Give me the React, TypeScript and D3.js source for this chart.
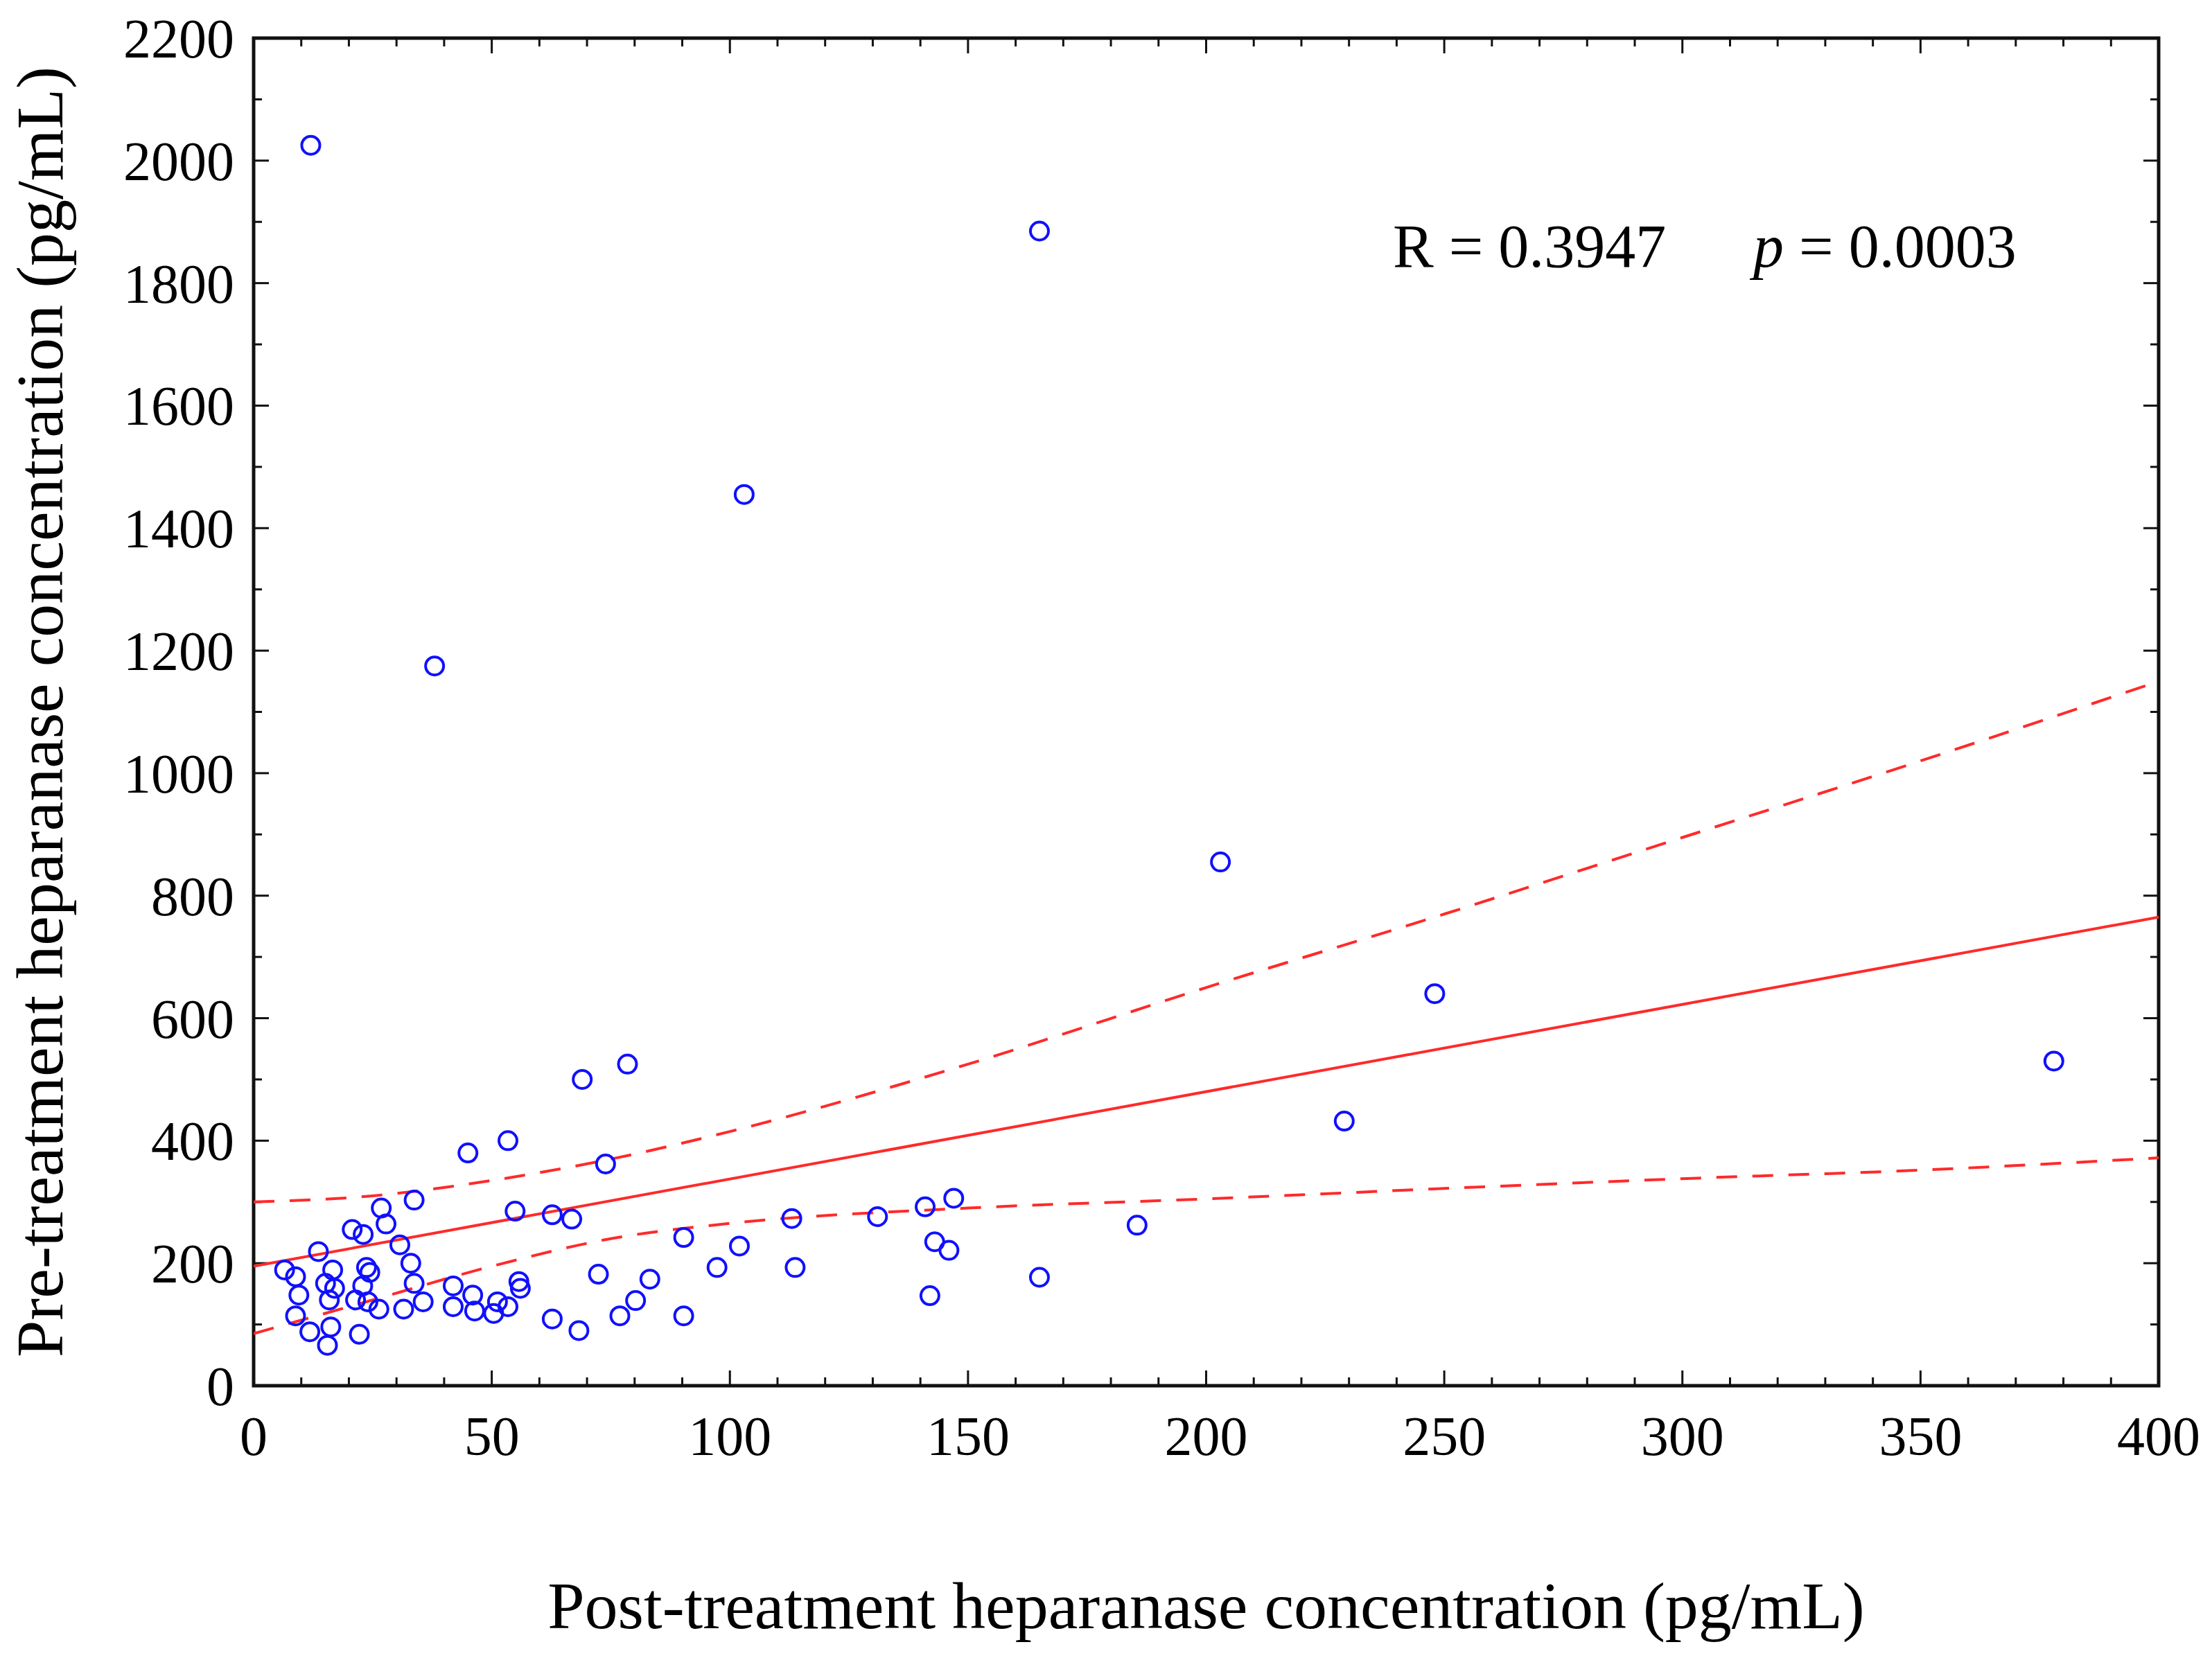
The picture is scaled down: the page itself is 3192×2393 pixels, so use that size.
import React, { useEffect, useRef } from "react";
import * as d3 from "d3";

const W = 3192;
const H = 2393;

// post-treatment (x) and pre-treatment (y) heparanase, pg/mL
const postValues = [
  12, 165, 103, 38, 203, 248, 229, 378, 69, 78.5,
  45, 53.4, 73.9, 26.8, 33.7, 27.8, 20.7, 23, 54.9, 62.7,
  66.8, 13.6, 30.7, 33, 90.3, 102, 113, 113.7, 6.5, 16.6,
  23.7, 8.8, 15.1, 17, 22.9, 24.4, 33.7, 9.5, 15.9, 21.4,
  24, 35.6, 26.3, 31.5, 41.9, 41.9, 46, 46.4, 50.4, 51.2,
  53.4, 55.7, 56, 72.4, 83.2, 80.2, 76.9, 97.3, 90.3, 62.7,
  68.3, 8.8, 11.8, 16.2, 15.5, 22.2, 131, 141, 147, 143,
  146, 142, 165, 185.5,
];
const preValues = [
  2025, 1885, 1455, 1175, 855, 640, 432, 530, 500, 525,
  380, 400, 362, 290, 303, 264, 255, 247, 285, 279,
  272, 219, 230, 200, 242, 228, 273, 193, 189, 189,
  193, 178, 167, 159, 163, 185, 167, 148, 140, 140,
  137, 137, 125, 125, 163, 129, 148, 122, 118, 137,
  129, 170, 159, 182, 174, 139, 114, 193, 114, 109,
  90, 114, 88, 96, 66, 84, 276, 292, 306, 235,
  221, 147, 177, 262,
];

// fitted line and 95% band
const fitX = [0, 400];
const fitY = [195, 765];
const bandX = [0, 25, 50, 75, 100, 150, 200, 250, 300, 350, 400];
const bandUpper = [300, 310, 335, 370, 415, 525, 650, 770, 895, 1020, 1150];
const bandLower = [85, 140, 195, 240, 265, 290, 305, 322, 338, 352, 372];

const xTicks = [0, 50, 100, 150, 200, 250, 300, 350, 400];
const yTicks = [0, 200, 400, 600, 800, 1000, 1200, 1400, 1600, 1800, 2000, 2200];

export default function App() {
  const ref = useRef<SVGSVGElement>(null);

  useEffect(() => {
    const svg = d3.select(ref.current);
    svg.selectAll("*").remove();
    const m = { left: 366, right: 3115, top: 55, bottom: 2000 };
    const x = d3.scaleLinear().domain([0, 400]).range([m.left, m.right]);
    const y = d3.scaleLinear().domain([0, 2200]).range([m.bottom, m.top]);
    const font = "'Liberation Serif', 'Times New Roman', serif";

    svg.append("rect").attr("width", W).attr("height", H).attr("fill", "#fff");

    // ticks (inward, all four sides)
    const g = svg.append("g").attr("stroke", "#111").attr("stroke-width", 3);
    d3.range(0, 401, 10).forEach((v) => {
      const len = v % 50 === 0 ? 22 : 12;
      g.append("line").attr("x1", x(v)).attr("x2", x(v)).attr("y1", m.bottom).attr("y2", m.bottom - len);
      g.append("line").attr("x1", x(v)).attr("x2", x(v)).attr("y1", m.top).attr("y2", m.top + len);
    });
    d3.range(0, 2201, 100).forEach((v) => {
      const len = v % 200 === 0 ? 22 : 12;
      g.append("line").attr("y1", y(v)).attr("y2", y(v)).attr("x1", m.left).attr("x2", m.left + len);
      g.append("line").attr("y1", y(v)).attr("y2", y(v)).attr("x1", m.right).attr("x2", m.right - len);
    });
    svg.append("rect")
      .attr("x", m.left).attr("y", m.top)
      .attr("width", m.right - m.left).attr("height", m.bottom - m.top)
      .attr("fill", "none").attr("stroke", "#111").attr("stroke-width", 5);

    svg.append("g").selectAll("text").data(xTicks).join("text")
      .attr("x", (d) => x(d)).attr("y", m.bottom + 100)
      .attr("text-anchor", "middle").attr("font-family", font).attr("font-size", 80)
      .text((d) => d);
    svg.append("g").selectAll("text").data(yTicks).join("text")
      .attr("x", m.left - 28).attr("y", (d) => y(d) + 28)
      .attr("text-anchor", "end").attr("font-family", font).attr("font-size", 80)
      .text((d) => d);

    // regression band and fit
    const line = d3.line<number>().x((_, i) => x(bandX[i]));
    const clip = svg.append("clipPath").attr("id", "pc");
    clip.append("rect").attr("x", m.left).attr("y", m.top)
      .attr("width", m.right - m.left).attr("height", m.bottom - m.top);
    const lines = svg.append("g").attr("clip-path", "url(#pc)")
      .attr("fill", "none").attr("stroke", "#ff2a2a").attr("stroke-width", 4);
    lines.append("path")
      .attr("d", line.y((d) => y(d)).curve(d3.curveMonotoneX)(bandUpper))
      .attr("stroke-dasharray", "30 22");
    lines.append("path")
      .attr("d", line.y((d) => y(d)).curve(d3.curveMonotoneX)(bandLower))
      .attr("stroke-dasharray", "30 22");
    lines.append("line")
      .attr("x1", x(fitX[0])).attr("y1", y(fitY[0]))
      .attr("x2", x(fitX[1])).attr("y2", y(fitY[1]));

    svg.append("g").selectAll("circle").data(postValues).join("circle")
      .attr("cx", (d) => x(d)).attr("cy", (_, i) => y(preValues[i]))
      .attr("r", 13).attr("fill", "none").attr("stroke", "#1010ff").attr("stroke-width", 4);

    const ann = svg.append("g").attr("font-family", font).attr("font-size", 88);
    ann.append("text").attr("x", 2010).attr("y", 385).text("R = 0.3947");
    const p = ann.append("text").attr("x", 2530).attr("y", 385);
    p.append("tspan").attr("font-style", "italic").text("p");
    p.append("tspan").text(" = 0.0003");

    svg.append("text").attr("x", (m.left + m.right) / 2).attr("y", 2350)
      .attr("text-anchor", "middle").attr("font-family", font).attr("font-size", 96)
      .text("Post-treatment heparanase concentration (pg/mL)");
    svg.append("text")
      .attr("transform", `translate(90,${(m.top + m.bottom) / 2}) rotate(-90)`)
      .attr("text-anchor", "middle").attr("font-family", font).attr("font-size", 96)
      .text("Pre-treatment heparanase concentration (pg/mL)");
  }, []);

  return (
    <svg ref={ref} width={W} height={H}
      style={{ position: "absolute", left: 0, top: 0, display: "block" }} />
  );
}
